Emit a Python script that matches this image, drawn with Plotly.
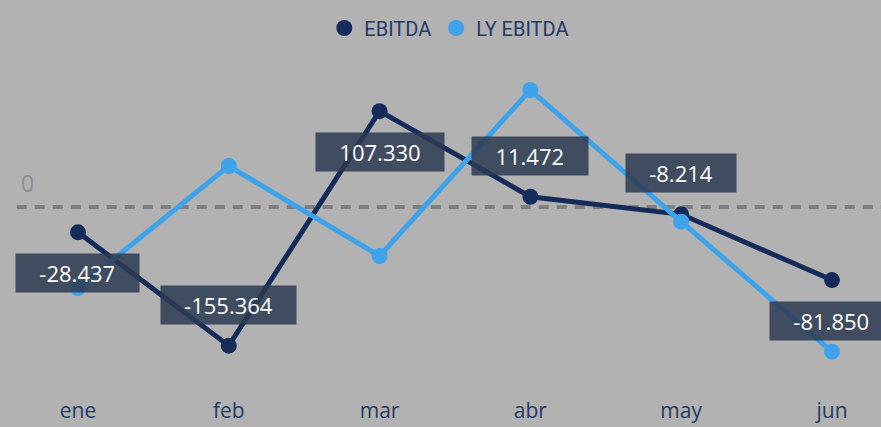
import plotly.graph_objects as go

months = ["ene", "feb", "mar", "abr", "may", "jun"]
ebitda = [-28437, -155364, 107330, 11472, -8214, -81850]
ly_ebitda = [-90700, 45900, -54900, 131000, -16500, -162000]

NAVY = "#162c58"
LIGHT = "#3ea3eb"
BG = "#b2b2b2"
TEXT_NAVY = "#243a66"

def fmt(v):
    return f"{v:,}".replace(",", ".")

def text_px(s):
    w = 0
    for ch in s:
        if ch.isdigit():
            w += 12.5
        elif ch == ".":
            w += 5
        else:
            w += 7
    return w

fig = go.Figure()

fig.add_trace(go.Scatter(
    x=months, y=ebitda, mode="lines+markers", name="EBITDA",
    line=dict(color=NAVY, width=5), marker=dict(color=NAVY, size=16),
    showlegend=False, hoverinfo="skip"))
fig.add_trace(go.Scatter(
    x=months, y=ly_ebitda, mode="lines+markers", name="LY EBITDA",
    line=dict(color=LIGHT, width=5), marker=dict(color=LIGHT, size=16),
    showlegend=False, hoverinfo="skip"))

# legend-only entries (circle symbols)
fig.add_trace(go.Scatter(x=[None], y=[None], mode="markers", name="EBITDA",
                         marker=dict(color=NAVY, size=18)))
fig.add_trace(go.Scatter(x=[None], y=[None], mode="markers", name="LY EBITDA",
                         marker=dict(color=LIGHT, size=18)))

# zero reference line
fig.add_shape(type="line", xref="paper", x0=0.019, x1=1, yref="y", y0=0, y1=0,
              line=dict(color="#7f7f7f", width=4, dash="10px,8px"), layer="below")
fig.add_annotation(xref="paper", x=27 / 881, xanchor="center", yref="y", y=0,
                   yshift=24, text="0", showarrow=False,
                   font=dict(family="Open Sans", size=23, color="#8e8e8e"))

label_side = [-1, 1, -1, 1, 1, -1]
for m, v, side in zip(months, ebitda, label_side):
    t = fmt(v)
    fig.add_annotation(
        x=m, y=v, text=t, showarrow=False, yshift=41 * side,
        width=text_px(t) + 48, height=38, borderpad=0,
        bgcolor="rgba(45,59,83,0.86)",
        font=dict(family="Open Sans", size=22, color="white"))

fig.update_layout(
    width=881, height=427,
    margin=dict(l=0, r=0, t=50, b=35),
    paper_bgcolor=BG, plot_bgcolor=BG,
    showlegend=True,
    legend=dict(orientation="h", x=0.51, xanchor="center", yref="container",
                y=1 - 28 / 427, yanchor="middle",
                font=dict(family="Roboto", size=20, color=TEXT_NAVY),
                itemwidth=30, bgcolor="rgba(0,0,0,0)"),
    xaxis=dict(type="category", categoryorder="array", categoryarray=months,
               range=[-0.517, 5.325], showgrid=False, zeroline=False,
               showline=False, ticks="", ticklabelstandoff=4,
               tickfont=dict(family="Open Sans", size=21, color=TEXT_NAVY)),
    yaxis=dict(range=[-207200, 175800], showgrid=False, zeroline=False,
               showticklabels=False, showline=False),
    hovermode=False,
)

fig.write_html("out.html", config={"displayModeBar": False},
               post_script="document.body.style.margin='0';document.body.style.overflow='hidden';")
